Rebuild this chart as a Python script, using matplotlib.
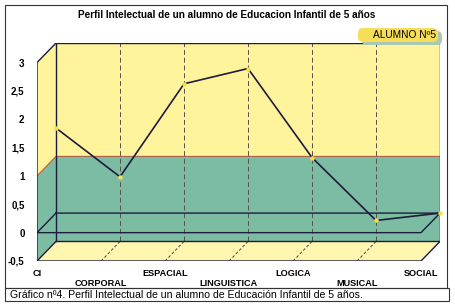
import matplotlib
matplotlib.use("Agg")
import matplotlib.pyplot as plt
from matplotlib.patches import Polygon, Rectangle, FancyBboxPatch
from matplotlib.transforms import IdentityTransform

plt.rcParams['font.family'] = ['Liberation Sans', 'DejaVu Sans']

# ───────── data ─────────
categories = ['CI', 'CORPORAL', 'ESPACIAL', 'LINGUISTICA', 'LOGICA', 'MUSICAL', 'SOCIAL']
alumno5 = [1.5, 0.64, 2.28, 2.55, 0.98, -0.13, 0.0]
yticks = [-0.5, 0, 0.5, 1, 1.5, 2, 2.5, 3]
ytick_labels = ['-0,5', '0', '0,5', '1', '1,5', '2', '2,5', '3']
band_low, band_high = -0.5, 1.0
ymin, ymax = -0.5, 3.0

# depth offset of the back wall (in category / value units)
dx, dy = 0.297, 0.345

YELLOW = '#fff39c'
FLOOR = '#fff6b0'
GREEN = '#7cbca2'
EDGE = '#1c1c3c'

W, H = 455, 305
fig = plt.figure(figsize=(W / 100, H / 100), dpi=100)
fig.patch.set_facecolor('white')
ax = fig.add_axes([37 / W, 44 / H, 403 / W, 218 / H])
n = len(categories) - 1
ax.set_xlim(0, n + dx)
ax.set_ylim(ymin, ymax + dy)
ax.patch.set_alpha(0)
for s in ax.spines.values():
    s.set_visible(False)

# ───────── walls ─────────
# back wall
ax.add_patch(Rectangle((dx, band_high + dy), n, ymax - band_high, fc=YELLOW, ec='none'))
ax.add_patch(Rectangle((dx, ymin + dy), n, band_high - ymin, fc=GREEN, ec='none'))
# left wall
ax.add_patch(Polygon([(0, band_high), (dx, band_high + dy), (dx, ymax + dy), (0, ymax)],
                     fc=YELLOW, ec='none'))
ax.add_patch(Polygon([(0, ymin), (dx, ymin + dy), (dx, band_high + dy), (0, band_high)],
                     fc=GREEN, ec='none'))
# floor
ax.add_patch(Polygon([(0, ymin), (n, ymin), (n + dx, ymin + dy), (dx, ymin + dy)],
                     fc=FLOOR, ec='none'))

# band top edge
ax.plot([0, dx, n + dx], [band_high, band_high + dy, band_high + dy], color='#b0604a', lw=0.8)

# gridlines on back wall and floor
for i in range(1, n):
    ax.plot([i + dx, i + dx], [ymin + dy, ymax + dy], color='#55504a', lw=0.7, ls=(0, (5, 3)))
    ax.plot([i, i + dx], [ymin, ymin + dy], color='#55504a', lw=0.7, ls=(0, (3, 2)))

# zero plane outline
ax.plot([dx, 0, n, n + dx, dx], [dy, 0, 0, dy, dy], color=EDGE, lw=1.0)

# frame edges
ax.plot([dx, dx, n + dx, n + dx], [ymin + dy, ymax + dy, ymax + dy, ymin + dy], color=EDGE, lw=1.0)
ax.plot([dx, n + dx], [ymin + dy, ymin + dy], color=EDGE, lw=1.0)
ax.plot([dx, 0, 0, n, n + dx], [ymax + dy, ymax, ymin, ymin, ymin + dy], color=EDGE, lw=1.0)
ax.plot([0, dx], [ymin, ymin + dy], color=EDGE, lw=1.0)

# ───────── series ─────────
xs = [i + dx for i in range(len(categories))]
ys = [v + dy for v in alumno5]
ax.plot(xs, ys, color=EDGE, lw=1.2, marker='o', ms=2.2, mfc='#f5e04a', mec='#f5e04a',
        clip_on=False, zorder=5)

# ───────── axes labels ─────────
ax.set_yticks(yticks)
ax.set_yticklabels(ytick_labels, fontsize=7, fontweight='bold')
ax.tick_params(axis='y', length=0, pad=9)
ax.set_xticks([])
for i, c in enumerate(categories):
    off = -12 if i % 2 == 0 else -23
    ax.annotate(c, (i, ymin), xytext=(0, off), textcoords='offset pixels',
                ha='center', va='center', fontsize=6.6, fontweight='bold', annotation_clip=False)

# ───────── title, legend, frame, caption ─────────
fig.text(227 / W, 1 - 15 / H, 'Perfil Intelectual de un alumno de Educacion Infantil de 5 años',
         ha='center', va='center', fontsize=7.2, fontweight='bold')

px = IdentityTransform()
fig.patches.append(FancyBboxPatch((362, H - 45), 80, 14, boxstyle='round,pad=0,rounding_size=5',
                                  fc='#aac8b6', ec='none', transform=px, figure=fig))
fig.patches.append(FancyBboxPatch((358, H - 42), 80, 14, boxstyle='round,pad=0,rounding_size=5',
                                  fc='#f6de58', ec='none', transform=px, figure=fig))
fig.text(436 / W, 1 - 35 / H, 'ALUMNO Nº5', ha='right', va='center', fontsize=7.3)

fig.patches.append(Rectangle((5 / W, 1 - 288 / H), 442 / W, 283 / H, fill=False,
                             ec='#333333', lw=0.8, transform=fig.transFigure, figure=fig))
fig.patches.append(Rectangle((5 / W, 1 - 301 / H), 444 / W, 13 / H, fill=False,
                             ec='#333333', lw=0.8, transform=fig.transFigure, figure=fig))
fig.text(10 / W, 1 - 295 / H,
         'Gráfico nº4. Perfil Intelectual de un alumno de Educación Infantil de 5 años.',
         ha='left', va='center', fontsize=7.6)

fig.savefig('out.png', dpi=100)
